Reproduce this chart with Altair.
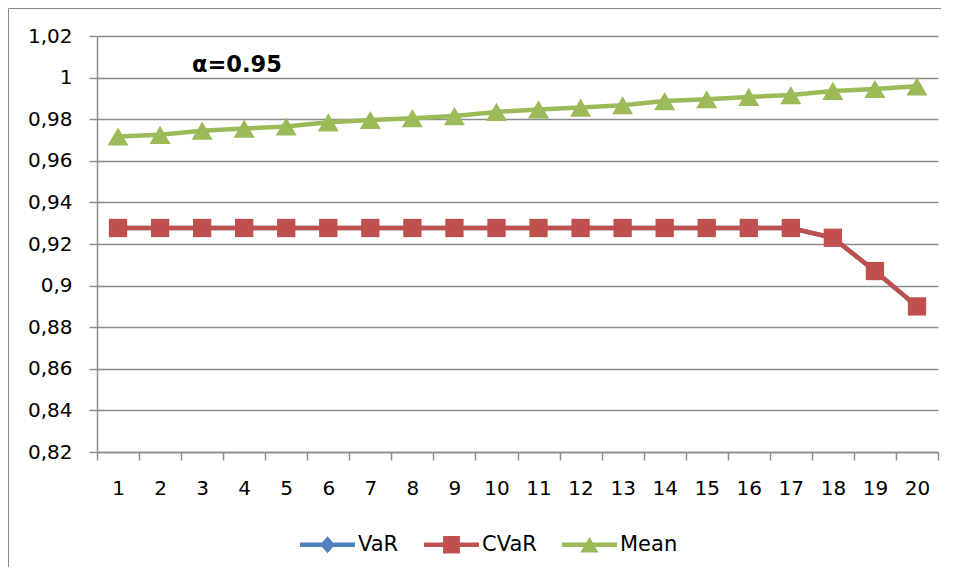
import altair as alt
import pandas as pd

categories = ["1", "2", "3", "4", "5", "6", "7", "8", "9", "10",
              "11", "12", "13", "14", "15", "16", "17", "18", "19", "20"]
var_values = [0.9277, 0.9277, 0.9277, 0.9277, 0.9277, 0.9277, 0.9277, 0.9277, 0.9277, 0.9277,
              0.9277, 0.9277, 0.9277, 0.9277, 0.9277, 0.9277, 0.9277, 0.9230, 0.9070, 0.8900]
cvar_values = [0.9277, 0.9277, 0.9277, 0.9277, 0.9277, 0.9277, 0.9277, 0.9277, 0.9277, 0.9277,
               0.9277, 0.9277, 0.9277, 0.9277, 0.9277, 0.9277, 0.9277, 0.9230, 0.9070, 0.8900]
mean_values = [0.9717, 0.9725, 0.9745, 0.9755, 0.9765, 0.9785, 0.9796, 0.9805, 0.9815, 0.9835,
               0.9847, 0.9856, 0.9867, 0.9887, 0.9896, 0.9907, 0.9916, 0.9936, 0.9945, 0.9958]
y_ticks = [0.82, 0.84, 0.86, 0.88, 0.90, 0.92, 0.94, 0.96, 0.98, 1.00, 1.02]
series_names = ["VaR", "CVaR", "Mean"]
series_colors = ["#4F81BD", "#C0504D", "#9BBB59"]
series_shapes = ["diamond", "square", "triangle-up"]
series_sizes = [300, 335, 440]
annotation = "α=0.95"

# legend symbols: line segment + marker (custom SVG paths)
line_part = "M-3.93,-0.33 L3.93,-0.33 L3.93,0.33 L-3.93,0.33 Z "
legend_paths = [
    line_part + "M0,-1.2 L1.05,0 L0,1.2 L-1.05,0 Z",
    line_part + "M-1.2,-1.25 L1.2,-1.25 L1.2,1.25 L-1.2,1.25 Z",
    line_part + "M0,-1.15 L1.3,1.1 L-1.3,1.1 Z",
]

rows = []
for name, vals in zip(series_names, [var_values, cvar_values, mean_values]):
    for c, v in zip(categories, vals):
        rows.append({"x": c, "value": v, "series": name})
df = pd.DataFrame(rows)

FONT = "DejaVu Sans"
GRAY = "#8c8c8c"

x_enc = alt.X(
    "x:O", sort=categories,
    scale=alt.Scale(type="band", paddingInner=0, paddingOuter=0, domain=categories),
    axis=alt.Axis(title=None, labelAngle=0, tickBand="extent", grid=False,
                  labelPadding=18, tickSize=8),
)
y_enc = alt.Y(
    "value:Q",
    scale=alt.Scale(domain=[0.82, 1.02], nice=False, zero=False),
    axis=alt.Axis(title=None, values=y_ticks, grid=True, tickSize=8, labelPadding=17,
                  labelExpr="replace(format(datum.value, '.2~f'), '.', ',')"),
)

layers = []
for name, color, shape, size in zip(series_names, series_colors, series_shapes, series_sizes):
    sub = alt.Chart(df).transform_filter(alt.datum.series == name)
    layers.append(sub.mark_line(color=color, strokeWidth=4.5).encode(x=x_enc, y=y_enc))
    layers.append(sub.mark_point(color=color, filled=True, opacity=1, shape=shape, size=size,
                                 strokeWidth=0).encode(x=x_enc, y=y_enc))

legend_kw = dict(orient="none", legendX=220, legendY=498, direction="horizontal", title=None,
                 symbolSize=196, symbolStrokeWidth=0, symbolOpacity=1, labelFont=FONT,
                 labelFontSize=21, labelColor="black", labelOffset=20, columnPadding=24, padding=0)

legend_layer = alt.Chart(df).transform_filter("datum.series == '__none__'").mark_point(
    filled=True, opacity=1, strokeWidth=0).encode(
    color=alt.Color("series:N", scale=alt.Scale(domain=series_names, range=series_colors),
                    legend=alt.Legend(**legend_kw)),
    shape=alt.Shape("series:N", scale=alt.Scale(domain=series_names, range=legend_paths),
                    legend=alt.Legend(**legend_kw)),
)

text_layer = alt.Chart(pd.DataFrame({"t": [annotation]})).mark_text(
    font=FONT, fontSize=22.5, fontWeight="bold", color="black", align="left",
    baseline="alphabetic").encode(text="t:N", x=alt.value(95), y=alt.value(36.3))

border_top = alt.Chart(pd.DataFrame({"a": [0]})).mark_rule(color="#8a8a8a", strokeWidth=1).encode(
    x=alt.value(-88.5), x2=alt.value(845), y=alt.value(-27.5))
border_left = alt.Chart(pd.DataFrame({"a": [0]})).mark_rule(color="#8a8a8a", strokeWidth=1).encode(
    x=alt.value(-88.5), y=alt.value(-27.5), y2=alt.value(545))

chart = alt.layer(border_top, border_left, *layers, legend_layer, text_layer).properties(
    width=841, height=416,
    autosize=alt.AutoSizeParams(type="none"),
    padding={"left": 89, "top": 28, "right": 3, "bottom": 115},
    background="white",
).configure_view(stroke=None).configure_axis(
    domainColor=GRAY, domainWidth=1.5, tickColor=GRAY, tickWidth=1.5,
    gridColor=GRAY, gridWidth=1.5, labelFont=FONT, labelFontSize=20, labelColor="black",
)

chart.save("out.html", embed_options={"renderer": "svg", "actions": False})
